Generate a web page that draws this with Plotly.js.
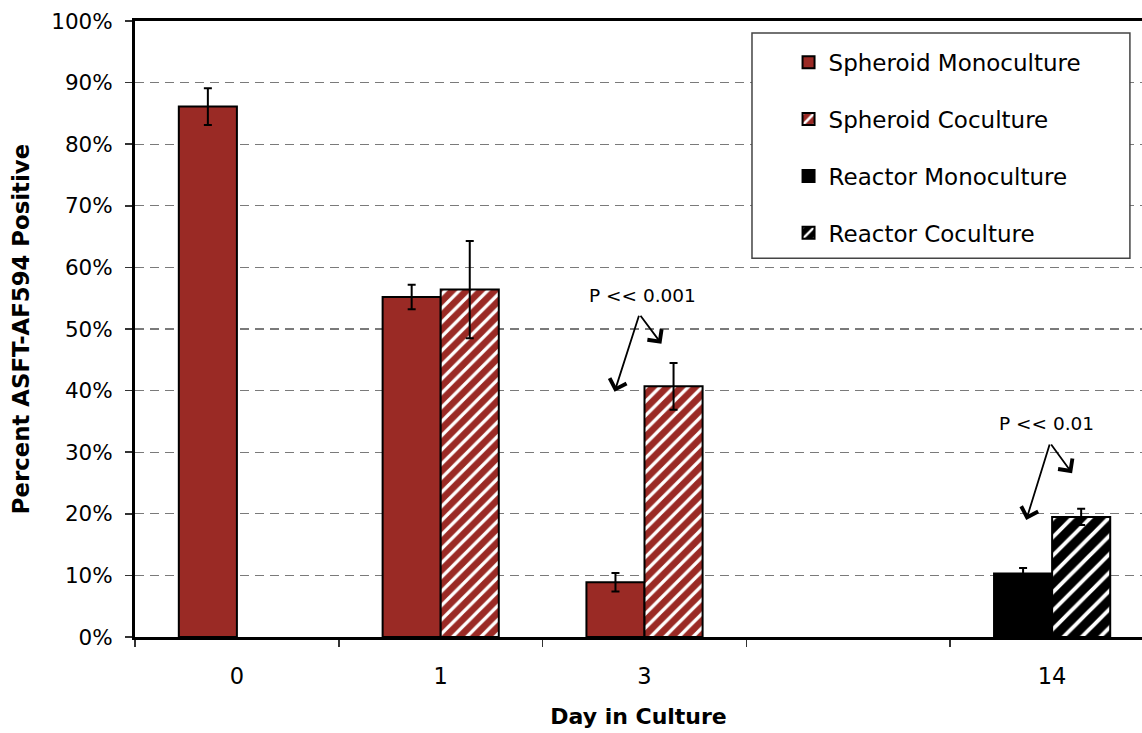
<!DOCTYPE html>
<html>
<head>
<meta charset="utf-8">
<script src="https://cdn.plot.ly/plotly-3.0.1.min.js"></script>
<style>
  html, body { margin: 0; padding: 0; background: #ffffff; }
  #chart { width: 1142px; height: 733px; }
</style>
</head>
<body>
<div id="chart"></div>
<script>
// Day in culture (a blank slot keeps the gap between day 3 and day 14)
const days = ['0', '1', '3', ' ', '14'];

// Percent ASFT-AF594 positive, mean and error per day
const spheroidMono    = [86.1, 55.2, 8.9, null, null];
const spheroidMonoErr = [3.0, 2.0, 1.5, null, null];
const spheroidCo      = [null, 56.4, 40.7, null, null];
const spheroidCoErr   = [null, 7.9, 3.8, null, null];
const reactorMono     = [null, null, null, null, 10.3];
const reactorMonoErr  = [null, null, null, null, 0.9];
const reactorCo       = [null, null, null, null, 19.5];
const reactorCoErr    = [null, null, null, null, 1.3];

const seriesNames = ['Spheroid Monoculture', 'Spheroid Coculture', 'Reactor Monoculture', 'Reactor Coculture'];

// Significance labels: [text, text x, text y, fork x, fork y, left tip x, left tip y, right tip x, right tip y]
const pLabels = [
  ['P &lt;&lt; 0.001', 1.99, 55.5, 1.975, 52.4, 1.853, 39.8, 2.083, 47.6],
  ['P &lt;&lt; 0.01', 3.97, 34.7, 3.99, 31.5, 3.873, 19.0, 4.098, 26.6]
];

const RED = '#9a2a25';
const FONT = 'DejaVu Sans';

function errBar(arr) {
  return { type: 'data', array: arr, visible: true, color: '#000', thickness: 2, width: 4 };
}

const traces = [
  {
    type: 'bar', name: seriesNames[0], x: days, y: spheroidMono,
    offsetgroup: 'mono', legendgroup: 'g1',
    marker: { color: RED, line: { color: '#000', width: 2 } },
    error_y: errBar(spheroidMonoErr)
  },
  {
    type: 'bar', name: seriesNames[1], x: days, y: spheroidCo,
    offsetgroup: 'co', legendgroup: 'g2',
    marker: {
      color: RED, line: { color: '#000', width: 2 },
      pattern: { shape: '/', fgcolor: '#ffffff', bgcolor: RED, size: 10, solidity: 0.33 }
    },
    error_y: errBar(spheroidCoErr)
  },
  {
    type: 'bar', name: seriesNames[2], x: days, y: reactorMono,
    offsetgroup: 'mono', legendgroup: 'g3',
    marker: { color: '#000000', line: { color: '#000', width: 2 } },
    error_y: errBar(reactorMonoErr)
  },
  {
    type: 'bar', name: seriesNames[3], x: days, y: reactorCo,
    offsetgroup: 'co', legendgroup: 'g4',
    marker: {
      color: '#000000', line: { color: '#000', width: 2 },
      pattern: { shape: '/', fgcolor: '#ffffff', bgcolor: '#000000', size: 13, solidity: 0.3 }
    },
    error_y: errBar(reactorCoErr)
  }
];

const annotations = [];
pLabels.forEach(function (p) {
  annotations.push({
    xref: 'x', yref: 'y', x: p[1], y: p[2], text: p[0], showarrow: false,
    font: { family: FONT, size: 18.5, color: '#000' }, xanchor: 'center', yanchor: 'middle'
  });
  [[p[5], p[6]], [p[7], p[8]]].forEach(function (tip) {
    annotations.push({
      xref: 'x', yref: 'y', x: tip[0], y: tip[1],
      axref: 'x', ayref: 'y', ax: p[3], ay: p[4],
      text: '', showarrow: true, arrowhead: 4, arrowsize: 1.9, arrowwidth: 1.8,
      arrowcolor: '#000', standoff: 0, startstandoff: 0
    });
  });
});

const layout = {
  width: 1142, height: 733,
  margin: { l: 135, r: 0, t: 21, b: 96 },
  paper_bgcolor: '#ffffff', plot_bgcolor: '#ffffff',
  font: { family: FONT, size: 21, color: '#000' },
  barmode: 'group', bargap: 0.43, bargroupgap: 0,
  showlegend: true,
  legend: {
    x: 0.649, y: 0.968, xanchor: 'left', yanchor: 'top',
    bgcolor: 'rgba(0,0,0,0)', borderwidth: 0,
    font: { family: FONT, size: 23, color: '#000' },
    traceorder: 'grouped', tracegroupgap: 24
  },
  xaxis: {
    type: 'category', categoryorder: 'array', categoryarray: days,
    range: [-0.5, 4.441],
    showgrid: false, zeroline: false,
    showline: true, linecolor: '#000', linewidth: 3, mirror: true,
    ticks: 'outside', tickson: 'boundaries', ticklen: 7, tickwidth: 1.5, tickcolor: '#333',
    ticklabelstandoff: 17,
    tickfont: { family: FONT, size: 22.5, color: '#000' },
    title: { text: 'Day in Culture', standoff: 21, font: { family: FONT, size: 22, weight: 700, color: '#000' } },
    fixedrange: true
  },
  yaxis: {
    range: [0, 100], dtick: 10, ticksuffix: '%',
    showgrid: true, gridcolor: '#7a7a7a', gridwidth: 1.3, griddash: '9px,6px',
    zeroline: false,
    showline: true, linecolor: '#000', linewidth: 3,
    ticks: 'outside', ticklen: 7, tickwidth: 1.5, tickcolor: '#333',
    ticklabelstandoff: 8,
    tickfont: { family: FONT, size: 21.5, color: '#000' },
    title: { text: 'Percent ASFT-AF594 Positive', standoff: 16, font: { family: FONT, size: 22.8, weight: 700, color: '#000' } },
    fixedrange: true
  },
  shapes: [
    {
      type: 'rect', xref: 'paper', yref: 'paper', layer: 'above',
      x0: 0.6127, x1: 0.988, y0: 0.615, y1: 0.9805,
      fillcolor: '#ffffff', line: { color: '#444', width: 1.5 }
    }
  ],
  annotations: annotations
};

Plotly.newPlot('chart', traces, layout, { displayModeBar: false, staticPlot: true });
</script>
</body>
</html>
